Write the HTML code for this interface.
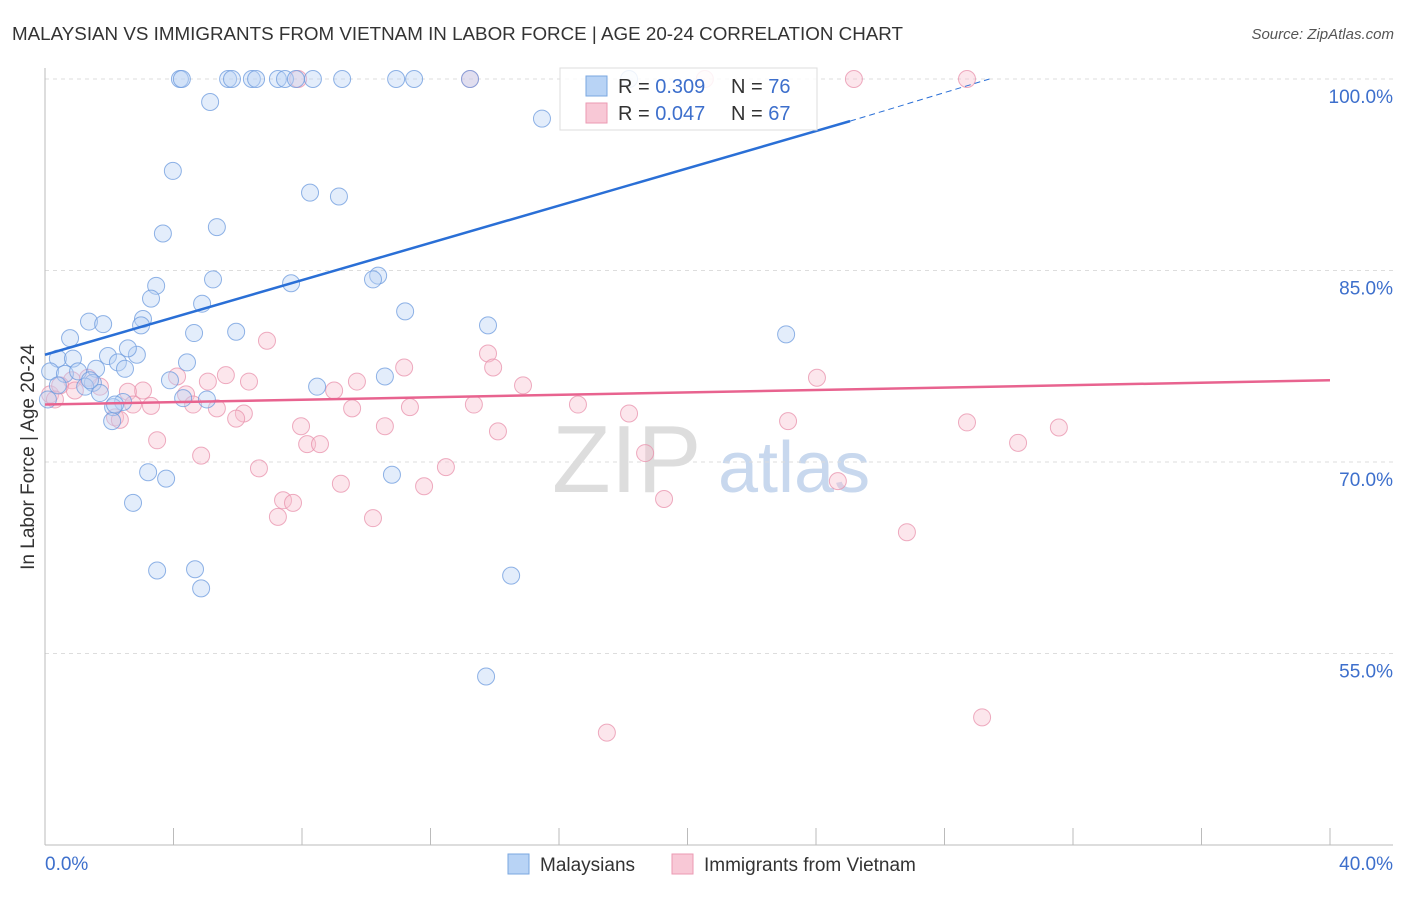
<!DOCTYPE html>
<html><head><meta charset="utf-8"><style>
body{margin:0;background:#fff;font-family:"Liberation Sans",sans-serif}
svg text{font-family:"Liberation Sans",sans-serif}
</style></head><body>
<svg id="chart" width="1406" height="892" viewBox="0 0 1406 892">
<text x="12" y="40" font-size="18" fill="#333" textLength="891" lengthAdjust="spacingAndGlyphs">MALAYSIAN VS IMMIGRANTS FROM VIETNAM IN LABOR FORCE | AGE 20-24 CORRELATION CHART</text>
<text x="1394" y="39" font-size="15" fill="#555" font-style="italic" text-anchor="end">Source: ZipAtlas.com</text>
<g><text x="552" y="492" font-size="96" fill="#ddd" font-family="Liberation Serif">ZIP</text><text x="718" y="492" font-size="72" fill="#c8d8ee">atlas</text></g>
<g id="grid"></g><g id="axes"></g><g id="pts"></g><g id="lines"></g>
<text x="34" y="457" font-size="19" fill="#333" text-anchor="middle" transform="rotate(-90 34 457)">In Labor Force | Age 20-24</text>
<g>
<rect x="560" y="68" width="257" height="62" fill="#fff" fill-opacity="0.85" stroke="#ddd"/>
<rect x="586" y="76" width="21" height="20" fill="#b8d3f5" stroke="#7aa7e0"/>
<rect x="586" y="103" width="21" height="20" fill="#f8c8d6" stroke="#eb9ab3"/>
<text x="618" y="93" font-size="20" fill="#333">R = <tspan fill="#3d6fcc">0.309</tspan></text>
<text x="731" y="93" font-size="20" fill="#333">N = <tspan fill="#3d6fcc">76</tspan></text>
<text x="618" y="120" font-size="20" fill="#333">R = <tspan fill="#3d6fcc">0.047</tspan></text>
<text x="731" y="120" font-size="20" fill="#333">N = <tspan fill="#3d6fcc">67</tspan></text>
</g>
<g>
<rect x="508" y="854" width="21" height="20" fill="#b8d3f5" stroke="#7aa7e0"/>
<text x="540" y="871" font-size="19" fill="#333">Malaysians</text>
<rect x="672" y="854" width="21" height="20" fill="#f8c8d6" stroke="#eb9ab3"/>
<text x="704" y="871" font-size="19" fill="#333">Immigrants from Vietnam</text>
</g>
</svg>
<script>
const yTicks=[55,70,85,100];
const xTickVals=[0,4,8,12,16,20,24,28,32,36,40];
const blueX=[4.20,4.26,5.70,5.82,6.44,6.57,7.25,7.47,7.81,8.34,9.25,10.93,11.49,13.23,18.18,5.14,15.47,3.98,8.25,9.15,3.67,5.35,5.23,10.37,10.21,7.66,3.46,3.30,4.89,11.21,1.37,1.81,3.05,2.99,13.79,23.07,4.64,5.95,0.78,0.40,0.87,1.96,2.86,2.58,2.27,4.42,1.59,2.49,0.16,0.62,10.58,3.89,8.47,1.49,1.25,1.71,4.30,5.04,2.43,2.12,2.09,3.21,3.77,10.80,2.74,3.49,4.67,4.86,14.51,13.73,0.09,1.03,1.40,0.40,2.18];
const blueY=[100,100,100,100,100,100,100,100,100,100,100,100,100,100,100,98.2,96.9,92.8,91.1,90.8,87.9,88.4,84.3,84.6,84.3,84.0,83.8,82.8,82.4,81.8,81.0,80.8,81.2,80.7,80.7,80.0,80.1,80.2,79.7,78.1,78.1,78.3,78.4,78.9,77.8,77.8,77.3,77.3,77.1,76.9,76.7,76.4,75.9,76.2,75.9,75.4,75.0,74.9,74.7,74.3,73.2,69.2,68.7,69.0,66.8,61.5,61.6,60.1,61.1,53.2,74.9,77.1,76.4,76.0,74.5];
const pinkX=[7.88,13.23,20.54,25.18,28.70,6.91,13.79,11.18,13.95,5.63,4.11,9.71,5.07,6.35,14.88,9.00,3.05,24.03,0.84,1.71,2.58,4.39,4.61,3.30,2.74,5.35,6.19,5.95,9.56,11.36,13.35,16.59,18.18,2.18,2.33,23.13,28.70,31.56,30.29,10.58,7.97,14.10,3.49,8.16,8.56,18.68,4.86,6.66,12.48,9.21,11.80,24.68,7.41,7.72,19.27,7.25,10.21,26.83,17.49,29.17,0.16,0.47,1.34,0.31,0.93];
const pinkY=[100,100,100,100,100,79.5,78.5,77.4,77.4,76.8,76.7,76.3,76.3,76.3,76.0,75.6,75.6,76.6,76.4,75.9,75.5,75.3,74.5,74.4,74.5,74.2,73.8,73.4,74.2,74.3,74.5,74.5,73.8,73.5,73.3,73.2,73.1,72.7,71.5,72.8,72.8,72.4,71.7,71.4,71.4,70.7,70.5,69.5,69.6,68.3,68.1,68.5,67.0,66.8,67.1,65.7,65.6,64.5,48.8,50.0,75.3,76.0,76.6,74.9,75.6];
const blueTrend=[[0,78.4],[25.06,96.7],[29.4,100]];
const pinkTrend=[[0,74.5],[40,76.4]];
const NS='http://www.w3.org/2000/svg';
const X=v=>45+v/40*1285, Y=v=>79+(100-v)/15*191.5;
function mk(t,a,p){const e=document.createElementNS(NS,t);for(const k in a)e.setAttribute(k,a[k]);p.appendChild(e);return e;}
const grid=document.getElementById('grid'),axes=document.getElementById('axes'),pts=document.getElementById('pts'),lines=document.getElementById('lines');
yTicks.forEach(t=>{
 const l=mk('line',{x1:45,x2:1393,y1:Y(t),y2:Y(t),stroke:'#ddd','stroke-dasharray':'4,4'},grid);
 
 
 const tx=mk('text',{x:1393,y:Y(t)+24,'font-size':19,fill:'#3d6fcc','text-anchor':'end'},grid);
 tx.textContent=t.toFixed(1)+'%';
 
 
});
const xa=mk('line',{x1:45,x2:1393,y1:845,y2:845,stroke:'#bbb'},axes);


const ya=mk('line',{x1:45,x2:45,y1:68,y2:845,stroke:'#bbb'},axes);


xTickVals.forEach(t=>{
 const l=mk('line',{x1:X(t),x2:X(t),y1:828,y2:845,stroke:'#bbb'},axes);
 
 
});
[[0,'start'],[40,'end']].forEach(([t,a])=>{
 const tx=mk('text',{x:t==0?45:1393,y:870,'font-size':19,fill:'#3d6fcc','text-anchor':a},axes);
 tx.textContent=t.toFixed(1)+'%';
 
 
});
function dots(xs,ys,fill,stroke,name){
 xs.forEach((x,i)=>{
  const c=mk('circle',{cx:X(x),cy:Y(ys[i]),r:8.5,fill:fill,'fill-opacity':0.4,stroke:stroke,'stroke-opacity':0.75,'stroke-width':1},pts);
  
  
 });
}
dots(pinkX,pinkY,'#f8c0d0','#e890ab','vietnam');
dots(blueX,blueY,'#b8d3f5','#6b9ade','malaysians');
const b1=mk('line',{x1:X(blueTrend[0][0]),y1:Y(blueTrend[0][1]),x2:X(blueTrend[1][0]),y2:Y(blueTrend[1][1]),stroke:'#2a6fd6','stroke-width':2.5},lines);


const b2=mk('line',{x1:X(blueTrend[1][0]),y1:Y(blueTrend[1][1]),x2:X(blueTrend[2][0]),y2:Y(blueTrend[2][1]),stroke:'#2a6fd6','stroke-width':1,'stroke-dasharray':'6,4'},lines);


const p1=mk('line',{x1:X(pinkTrend[0][0]),y1:Y(pinkTrend[0][1]),x2:X(pinkTrend[1][0]),y2:Y(pinkTrend[1][1]),stroke:'#e8638f','stroke-width':2.5},lines);


</script>
</body></html>
